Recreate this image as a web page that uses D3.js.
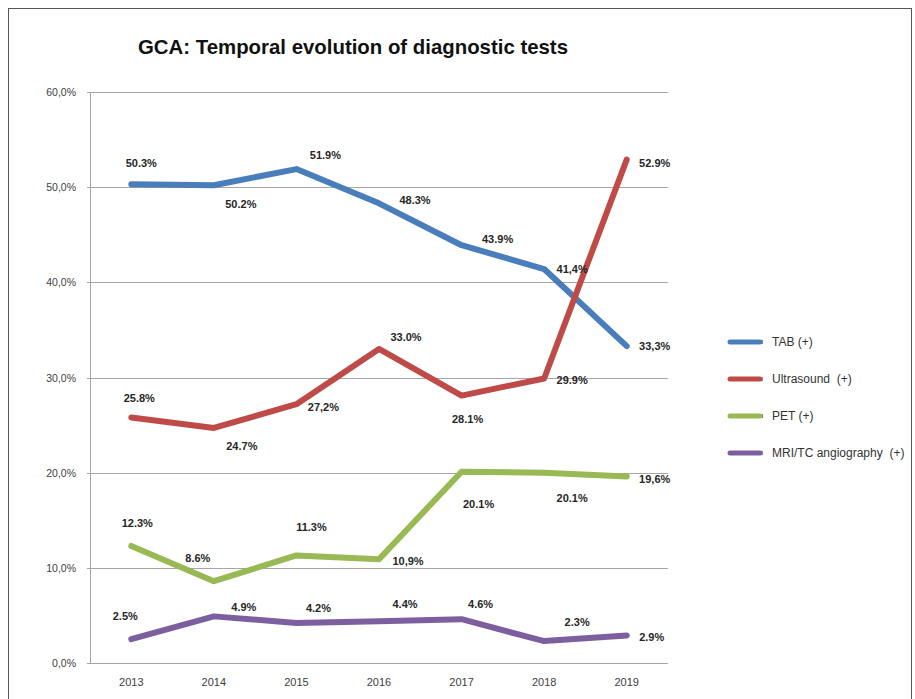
<!DOCTYPE html>
<html>
<head>
<meta charset="utf-8">
<script src="https://cdn.jsdelivr.net/npm/d3@7"></script>
<style>
  body { margin: 0; background: #fff; }
  svg text { font-family: "Liberation Sans", Arial, sans-serif; }
</style>
</head>
<body>
<div id="holder"></div>
<script>
const years = ["2013", "2014", "2015", "2016", "2017", "2018", "2019"];
const yTicks = [0, 0.1, 0.2, 0.3, 0.4, 0.5, 0.6];
const yTickLabels = ["0,0%", "10,0%", "20,0%", "30,0%", "40,0%", "50,0%", "60,0%"];

const seriesNames = ["TAB (+)", "Ultrasound  (+)", "PET (+)", "MRI/TC angiography  (+)"];
const seriesColors = ["#4a7ebb", "#be4b48", "#98b954", "#7d5fa0"];

const tabValues = [50.3, 50.2, 51.9, 48.3, 43.9, 41.4, 33.3];
const ultrasoundValues = [25.8, 24.7, 27.2, 33.0, 28.1, 29.9, 52.9];
const petValues = [12.3, 8.6, 11.3, 10.9, 20.1, 20.0, 19.6];
const mriValues = [2.5, 4.9, 4.2, 4.4, 4.6, 2.3, 2.9];

const tabLabels = ["50.3%", "50.2%", "51.9%", "48.3%", "43.9%", "41,4%", "33,3%"];
const ultrasoundLabels = ["25.8%", "24.7%", "27,2%", "33.0%", "28.1%", "29.9%", "52.9%"];
const petLabels = ["12.3%", "8.6%", "11.3%", "10,9%", "20.1%", "20.1%", "19,6%"];
const mriLabels = ["2.5%", "4.9%", "4.2%", "4.4%", "4.6%", "2.3%", "2.9%"];

// label offsets (dx, dy) from each point, as placed in the original
const labelOffsets = [
  [[10, -21], [27, 19], [29, -14], [36, -3], [36, -6], [28, 0], [28, 0]],
  [[8, -19], [28, 18], [27, 3], [27, -12], [6, 23], [28, 2], [28, 3]],
  [[6, -23], [-16, -23], [15, -28], [29, 2], [17, 32], [28, 25], [28, 3]],
  [[-6, -23], [30, -9], [22, -15], [26, -17], [19, -15], [33, -19], [25, 2]]
];

const allValues = [tabValues, ultrasoundValues, petValues, mriValues];
const allLabels = [tabLabels, ultrasoundLabels, petLabels, mriLabels];

const width = 915;
const height = 699;
const plotLeft = 90, plotRight = 668, plotTop = 92, plotBottom = 663;

const svg = d3.select("#holder")
  .append("svg")
  .attr("width", width)
  .attr("height", height);

// outer frame
svg.append("rect")
  .attr("x", 8.5).attr("y", 8.5)
  .attr("width", 903).attr("height", 700)
  .attr("fill", "#fff")
  .attr("stroke", "#555")
  .attr("stroke-width", 1);

svg.append("text")
  .attr("x", 138)
  .attr("y", 54)
  .attr("textLength", 430)
  .attr("lengthAdjust", "spacingAndGlyphs")
  .style("font-weight", "bold")
  .style("font-size", "21px")
  .attr("fill", "#111")
  .text("GCA: Temporal evolution of diagnostic tests");

const xScale = d3.scalePoint()
  .domain(years)
  .range([plotLeft, plotRight])
  .padding(0.5);

const yScale = d3.scaleLinear()
  .domain([0, 0.6])
  .range([plotBottom, plotTop]);

// gridlines
svg.append("g")
  .selectAll("line")
  .data(yTicks)
  .enter()
  .append("line")
  .attr("x1", plotLeft - 3)
  .attr("x2", plotRight)
  .attr("y1", (d) => Math.round(yScale(d)) + 0.5)
  .attr("y2", (d) => Math.round(yScale(d)) + 0.5)
  .attr("stroke", "#a6a6a6")
  .attr("stroke-width", 1);

svg.append("line")
  .attr("x1", plotLeft + 0.5).attr("x2", plotLeft + 0.5)
  .attr("y1", plotTop).attr("y2", plotBottom)
  .attr("stroke", "#a6a6a6");

// y axis labels
svg.append("g")
  .selectAll("text")
  .data(yTicks)
  .enter()
  .append("text")
  .attr("x", 76)
  .attr("y", (d) => yScale(d) + 4)
  .attr("text-anchor", "end")
  .style("font-size", "10.5px")
  .attr("fill", "#404040")
  .text((d, i) => yTickLabels[i]);

// x axis labels
svg.append("g")
  .selectAll("text")
  .data(years)
  .enter()
  .append("text")
  .attr("x", (d) => xScale(d))
  .attr("y", 686)
  .attr("text-anchor", "middle")
  .style("font-size", "11px")
  .attr("fill", "#404040")
  .text((d) => d);

const line = d3.line()
  .x((d, i) => xScale(years[i]))
  .y((d) => yScale(d / 100));

allValues.forEach((values, s) => {
  svg.append("path")
    .datum(values)
    .attr("d", line)
    .attr("fill", "none")
    .attr("stroke", seriesColors[s])
    .attr("stroke-width", 6)
    .attr("stroke-linecap", "round")
    .attr("stroke-linejoin", "round");
});

allValues.forEach((values, s) => {
  svg.append("g")
    .selectAll("text")
    .data(values)
    .enter()
    .append("text")
    .attr("x", (d, i) => xScale(years[i]) + labelOffsets[s][i][0])
    .attr("y", (d, i) => yScale(d / 100) + labelOffsets[s][i][1] + 4)
    .attr("text-anchor", "middle")
    .style("font-size", "11px")
    .style("font-weight", "bold")
    .attr("fill", "#262626")
    .text((d, i) => allLabels[s][i]);
});

// legend
const legend = svg.append("g")
  .selectAll("g")
  .data(seriesNames)
  .enter()
  .append("g")
  .attr("transform", (d, i) => `translate(730, ${342 + i * 37})`);

legend.append("line")
  .attr("x1", 0).attr("x2", 30)
  .attr("y1", 0).attr("y2", 0)
  .attr("stroke", (d, i) => seriesColors[i])
  .attr("stroke-width", 5)
  .attr("stroke-linecap", "round");

legend.append("line")
  .attr("x1", 32.5).attr("x2", 32.5)
  .attr("y1", -2).attr("y2", 2)
  .attr("stroke", "#888")
  .attr("stroke-width", 1);

legend.append("text")
  .attr("x", 42)
  .attr("y", 4)
  .style("font-size", "12px")
  .style("white-space", "pre")
  .attr("fill", "#333")
  .text((d) => d);
</script>
</body>
</html>
